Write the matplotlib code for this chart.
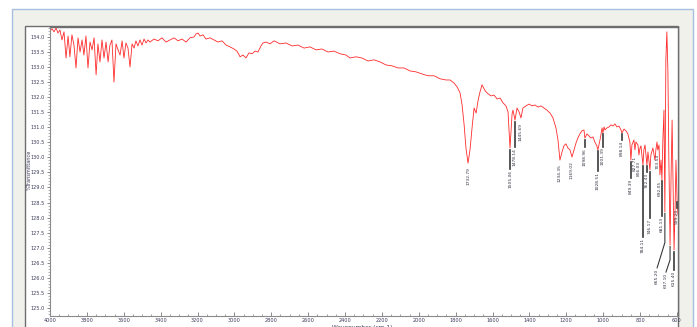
import numpy as np
import matplotlib.pyplot as plt
from matplotlib.patches import Rectangle
from matplotlib.ticker import MultipleLocator, FormatStrFormatter

# IR trace, wavenumber (cm-1) vs %T
wavenumber = [
    4000, 3989, 3978, 3967, 3957, 3946, 3935, 3924, 3913, 3902,
    3892, 3881, 3870, 3859, 3848, 3837, 3826, 3816, 3805, 3794,
    3783, 3772, 3761, 3750, 3740, 3729, 3718, 3707, 3696, 3685,
    3675, 3664, 3653, 3642, 3631, 3620, 3609, 3599, 3588, 3577,
    3566, 3555, 3544, 3534, 3523, 3512, 3501, 3490, 3479, 3468,
    3458, 3436, 3414, 3393, 3371, 3349, 3327, 3306, 3284, 3262,
    3241, 3219, 3208, 3197, 3186, 3170, 3154, 3132, 3110, 3089,
    3067, 3045, 3024, 3002, 2986, 2969, 2953, 2937, 2921, 2904,
    2888, 2872, 2856, 2845, 2828, 2807, 2785, 2752, 2720, 2687,
    2655, 2622, 2590, 2557, 2525, 2492, 2460, 2427, 2395, 2373,
    2340, 2308, 2275, 2243, 2210, 2178, 2145, 2112, 2080, 2047,
    2015, 1982, 1950, 1917, 1885, 1852, 1830, 1809, 1792, 1776,
    1765, 1754, 1744, 1722, 1711, 1700, 1689, 1678, 1668, 1657,
    1640, 1624, 1608, 1592, 1575, 1559, 1543, 1527, 1516, 1494,
    1489, 1467, 1456, 1435, 1418, 1402, 1386, 1370, 1353, 1337,
    1321, 1305, 1288, 1272, 1256, 1245, 1223, 1213, 1202, 1191,
    1180, 1158, 1147, 1137, 1126, 1115, 1104, 1088, 1077, 1066,
    1055, 1045, 1034, 1017, 1012, 1006, 995, 990, 979, 968,
    958, 947, 936, 925, 914, 903, 887, 876, 866, 855,
    844, 833, 822, 811, 800, 795, 779, 773, 757, 741,
    730, 719, 714, 708, 697, 686, 676, 670, 659.8, 654.4,
    648.9, 643.5, 632, 626, 621, 610, 605, 594,
]
transmittance = [
    134.20, 134.27, 134.17, 134.30, 134.13, 134.23, 133.90, 134.17, 133.30, 134.03,
    133.34, 134.07, 133.73, 132.97, 133.97, 133.50, 133.90, 133.40, 134.03, 132.97,
    133.83, 133.57, 133.97, 132.74, 133.77, 133.17, 133.90, 133.30, 133.83, 133.17,
    133.73, 133.90, 132.50, 133.77, 133.57, 133.40, 133.87, 133.30, 133.80, 133.63,
    133.00, 133.77, 133.63, 133.87, 133.70, 133.90, 133.73, 133.93, 133.80, 133.90,
    133.83, 133.93, 133.87, 133.97, 133.83, 133.90, 133.97, 133.87, 133.93, 133.83,
    133.97, 134.00, 134.10, 134.13, 134.03, 134.07, 133.93, 133.97, 133.90, 133.83,
    133.87, 133.73, 133.67, 133.60, 133.53, 133.34, 133.40, 133.30, 133.47, 133.44,
    133.53, 133.50, 133.70, 133.80, 133.83, 133.77, 133.87, 133.77, 133.80, 133.70,
    133.73, 133.63, 133.67, 133.57, 133.60, 133.50, 133.53, 133.44, 133.40, 133.30,
    133.34, 133.30, 133.20, 133.24, 133.17, 133.07, 133.04, 132.97, 132.97, 132.87,
    132.84, 132.77, 132.71, 132.71, 132.61, 132.57, 132.57, 132.47, 132.34, 132.14,
    131.74, 131.08, 130.31, 130.25, 130.98, 131.64, 131.47, 131.90, 132.17, 132.41,
    132.21, 132.11, 132.04, 132.07, 131.94, 131.97, 131.81, 131.71, 131.51, 131.44,
    131.57, 131.64, 131.51, 131.64, 131.71, 131.77, 131.71, 131.74, 131.67, 131.71,
    131.64, 131.57, 131.47, 131.31, 130.98, 130.58, 130.18, 130.38, 130.45, 130.31,
    130.25, 130.25, 130.48, 130.64, 130.78, 130.88, 130.91, 130.78, 130.71, 130.64,
    130.68, 130.51, 130.38, 130.58, 130.75, 130.98, 131.01, 130.91, 130.98, 131.01,
    131.08, 131.04, 131.11, 131.01, 131.04, 130.91, 130.94, 130.88, 130.78, 130.51,
    130.41, 130.58, 130.51, 130.41, 130.31, 130.38, 130.25, 130.41, 130.18, 130.08,
    130.31, 129.91, 130.25, 130.51, 130.41, 129.91, 130.58, 131.57, 133.24, 134.17,
    132.90, 129.91, 129.25, 131.24, 129.08, 128.25, 129.91, 128.09,
]

# picked peaks
peak_wn = [1732.79, 1505.06, 1478.14, 1445.69, 1234.35, 1169.02, 1098.96, 1028.51,
           1001.39, 898.14, 849.39, 827.71, 806.03, 784.11, 762.43, 746.17,
           703.54, 692.05, 681.13, 665.20, 637.10, 615.40, 599.20]
peak_t = [129.81, 130.31, 131.24, 131.31, 129.91, 130.01, 130.64, 130.25,
          130.81, 130.81, 129.91, 130.25, 130.08, 129.75, 129.75, 129.58,
          130.25, 129.42, 129.25, 128.19, 127.09, 126.92, 128.58]
# label placement: drop below the peak (%T) and sideways shift (cm-1)
label_drop = [0.10, 0.70, 0.90, 0.13, 0.10, 0.10, 0.30, 0.70,
              0.45, 0.23, 0.60, 0.17, 0.17, 2.40, 0.25, 1.60,
              0.10, 0.17, 1.20, 1.86, 0.90, 0.67, 0.27]
label_shift = [0, 0, 0, 0, 0, 0, 0, 0,
               0, 0, 0, 0, 0, 0, 0, 0,
               0, 0, 0, 42, 22, 0, 0]

wn = np.array(wavenumber + peak_wn)
tr = np.array(transmittance + peak_t)
order = np.argsort(-wn)
wn, tr = wn[order], tr[order]

W, H = 697, 327
fig = plt.figure(figsize=(W / 100, H / 100), dpi=100)

# window chrome: grey frame with blue edge, white plot panel
fig.patches.append(Rectangle((12 / W, -0.1), 681 / W, 1.1 - 9 / H,
                             transform=fig.transFigure, facecolor='#f1f1ec',
                             edgecolor='#a6bfe0', lw=1.0, zorder=-3))
fig.patches.append(Rectangle((25 / W, -0.1), 653 / W, 1.1 - 26 / H,
                             transform=fig.transFigure, facecolor='white',
                             edgecolor='#6e6e6e', lw=1.0, zorder=-2))

ax = fig.add_axes([50 / W, 1 - 316 / H, 628 / W, 289 / H])
ax.plot(wn, tr, color='#ff2a2a', lw=0.6)

for w, t, d, s in zip(peak_wn, peak_t, label_drop, label_shift):
    lx = w + s
    ly = t - d
    if s:
        ax.plot([w, w, lx], [t - 0.05, t - d * 0.55, ly], color='#3a3a3a', lw=0.8)
    elif d > 0.2:
        ax.plot([w, w], [t - 0.05, ly], color='#3a3a3a', lw=1.2)
    ax.text(lx, ly - 0.03, f"{w:.2f}", rotation=90, ha='center', va='top',
            fontsize=3.2, color='#333344', clip_on=False)

ax.set_xlim(4000, 594)
ax.set_ylim(124.73, 134.33)

ax.xaxis.set_major_locator(MultipleLocator(200))
ax.xaxis.set_minor_locator(MultipleLocator(50))
ax.yaxis.set_major_locator(MultipleLocator(0.5))
ax.yaxis.set_minor_locator(MultipleLocator(0.1))
ax.yaxis.set_major_formatter(FormatStrFormatter('%.1f'))
ax.xaxis.set_major_formatter(FormatStrFormatter('%d'))

ax.tick_params(axis='x', which='both', direction='in', labelsize=3.6,
               labelcolor='#3a3a5a', color='#777777', pad=1.5)
ax.tick_params(axis='x', which='major', length=3, width=0.6)
ax.tick_params(axis='x', which='minor', length=1.5, width=0.5)
ax.tick_params(axis='y', which='both', direction='out', labelsize=3.6,
               labelcolor='#3a3a5a', color='#777777', pad=1.5)
ax.tick_params(axis='y', which='major', length=2.5, width=0.6)
ax.tick_params(axis='y', which='minor', length=1.2, width=0.4)

for side in ('left', 'bottom'):
    ax.spines[side].set_color('#8a8a8a')
    ax.spines[side].set_linewidth(0.8)
for side in ('top', 'right'):
    ax.spines[side].set_color('#6e6e6e')
    ax.spines[side].set_linewidth(1.0)

fig.text(29 / W, 1 - 170 / H, '%Transmittance', rotation=90,
         ha='center', va='center', fontsize=3.6, color='#3a3a5a')
fig.text(362 / W, 1 - 324.5 / H, 'Wavenumber (cm-1)', ha='center', va='top',
         fontsize=4.2, color='#3a3a5a')

fig.savefig('out.png', dpi=100)
